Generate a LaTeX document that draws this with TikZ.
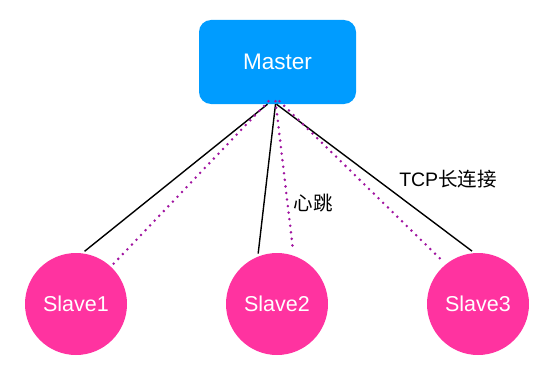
\documentclass[tikz,border=0pt]{standalone}
\usepackage{fontspec}
\setmainfont{Liberation Sans}
\newfontfamily\cjk{Noto Sans CJK SC}
\newfontfamily\latin{Liberation Sans}
\usetikzlibrary{positioning}
\definecolor{azulmaster}{RGB}{0,156,255}
\definecolor{rosa}{RGB}{255,51,160}
\definecolor{morado}{RGB}{160,20,160}

\begin{document}
\begin{tikzpicture}[x=1pt,y=-1pt,
  master/.style={fill=azulmaster,rounded corners=12pt,minimum width=157pt,minimum height=84pt,text=white,font=\fontsize{22.5}{26}\selectfont},
  slave/.style={circle,fill=rosa,minimum size=102pt,inner sep=0pt,text=white,font=\fontsize{21.5}{25}\selectfont},
  link/.style={line width=1.4pt,shorten >=3pt},
  beat/.style={morado,line width=2.8pt,line cap=round,dash pattern=on 0pt off 6.6pt,shorten >=4pt},
  lbl/.style={font=\fontsize{19.5}{23}\selectfont\cjk}]
  \useasboundingbox (0,0) rectangle (554,369);
  \node[master] (m) at (277.5,62) {Master};
  \node[slave] (s1) at (76,304) {Slave1};
  \node[slave] (s2) at (277,304) {Slave2};
  \node[slave] (s3) at (478,304) {Slave3};
  % conexiones TCP
  \draw[link] ([xshift=-10pt]m.south) -- (s1.83);
  \draw[link] ([xshift=-2pt]m.south) -- (s2.112);
  \draw[link] ([xshift=-1pt]m.south) -- (s3.94);
  % latidos
  \draw[beat] ([xshift=-9pt,yshift=3pt]m.south) -- (s1.47);
  \draw[beat] ([xshift=-2pt,yshift=3pt]m.south) -- (s2.71);
  \draw[beat] ([xshift=2pt,yshift=3pt]m.south) -- (s3.129);
  \node[lbl] (hb) at (313,203) {心跳};
  \node[lbl] (tcp) at (448,179) {{\latin TCP}长连接};
\end{tikzpicture}
\end{document}
